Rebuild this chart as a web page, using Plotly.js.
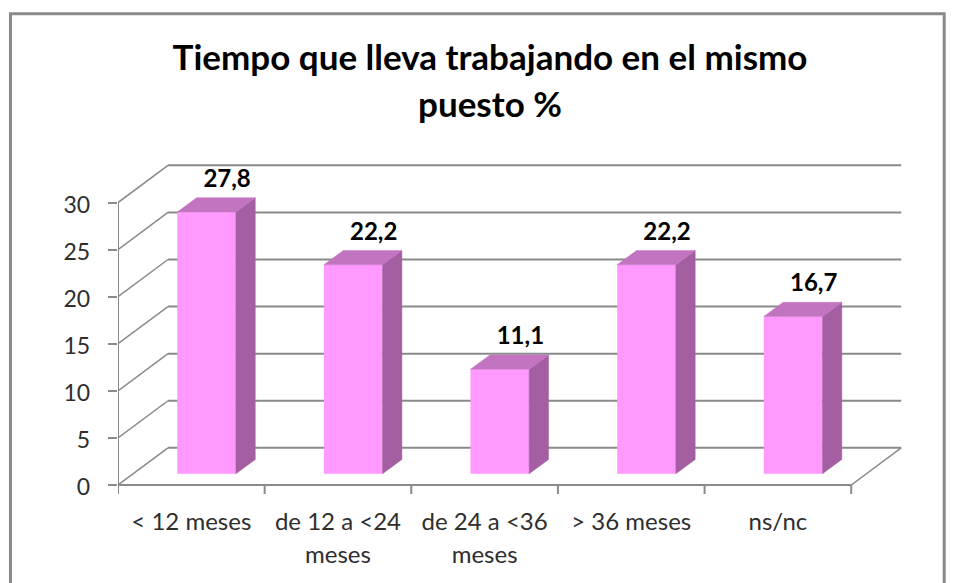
<!DOCTYPE html>
<html><head><meta charset="utf-8">
<script src="https://cdn.plot.ly/plotly-3.0.1.min.js"></script>
<style>html,body{margin:0;padding:0;background:#fff;overflow:hidden}#c{width:957px;height:583px}</style>
</head><body><div id="c"></div>
<script>
const categories = ['&lt; 12 meses','de 12 a &lt;24<br>meses','de 24 a &lt;36<br>meses','&gt; 36 meses','ns/nc'];
const values = [27.8,22.2,11.1,22.2,16.7];
const valueLabels = ['27,8','22,2','11,1','22,2','16,7'];
const yTicks = [0,5,10,15,20,25,30];
const xEdges = [0,1,2,3,4,5];

// oblique projection, in axis units
const wallDx = 0.341, wallDy = 3.95;       // depth of the floor
const barDx0 = 0.104, barDy0 = 1.19;       // bar front face offset from the front edge
const barDx = 0.132, barDy = 1.52;         // bar depth
const barW = 0.40;
const gridColor = '#8a8a8a', textColor = '#2e2e2e', fontName = 'Lato, Carlito, sans-serif';

const cx = categories.map((_, i) => i + 0.5 + barDx0);
const xl = cx.map(c => c - barW/2), xr = cx.map(c => c + barW/2);

const front = {type:'bar', x:cx, y:values, base:values.map(()=>barDy0), width:barW,
  marker:{color:'#FF99FF', line:{width:0}}, hoverinfo:'skip', showlegend:false};

const topX=[], topY=[], sideX=[], sideY=[];
values.forEach((v,i)=>{
  const t = v + barDy0;
  topX.push(xl[i], xr[i], xr[i]+barDx, xl[i]+barDx, xl[i], null);
  topY.push(t, t, t+barDy, t+barDy, t, null);
  sideX.push(xr[i], xr[i]+barDx, xr[i]+barDx, xr[i], xr[i], null);
  sideY.push(barDy0, barDy0+barDy, t+barDy, t, barDy0, null);
});
const poly = (x,y,c)=>({type:'scatter', mode:'lines', x, y, fill:'toself', fillcolor:c,
  line:{width:0.5,color:c}, hoverinfo:'skip', showlegend:false, connectgaps:false});

const labels = {type:'scatter', mode:'text', x:cx.map(c=>c+0.14),
  y:values.map(v=>v+barDy0+barDy+1.8), text:valueLabels, textposition:'middle center',
  textfont:{family:fontName,size:24,color:'#000',weight:700}, hoverinfo:'skip', showlegend:false};

const ln = (xref,yref,x0,y0,x1,y1,w)=>({type:'line',layer:'below',xref,yref,x0,y0,x1,y1,
  line:{color:gridColor,width:w||2}});
const shapes = [];
yTicks.forEach(t=>{
  shapes.push(ln('x','y',wallDx,t+wallDy,5+wallDx,t+wallDy));
  shapes.push(ln('x','y',0,t,wallDx,t+wallDy,1.5));
});
shapes.push(ln('x','y',5,0,5+wallDx,wallDy,1.5));
shapes.push(ln('x','y',0,0,0,30));
shapes.push(ln('x','paper',0,0,5,0));
xEdges.forEach(e=>shapes.push(ln('x','paper',e,0,e,-9/322,2)));
// chart frame, in paper units of the 786x322 plot area
const px=v=>(v-118)/785.8, py=v=>(485.5-v)/322.2;
shapes.push({type:'rect',layer:'below',xref:'paper',yref:'paper',x0:px(10.5),x1:px(944),y0:py(14),y1:py(600),
  line:{color:'#8a8a8a',width:3},fillcolor:'rgba(0,0,0,0)'});

const layout = {
  width:957, height:583, autosize:false, showlegend:false,
  paper_bgcolor:'#fff', plot_bgcolor:'rgba(0,0,0,0)',
  margin:{l:118,r:53.2,t:163.3,b:97.5,pad:0},
  title:{text:'<span style="font-size:35px">Tiempo que lleva trabajando en el mismo<br>puesto %</span>',
    x:490/957, xanchor:'center', y:0.88, yanchor:'top',
    font:{family:fontName,size:36,color:'#000',weight:700}},
  xaxis:{range:[0,5.36], tickmode:'array', tickvals:categories.map((_,i)=>i+0.5),
    ticktext:categories.map(c=>'<span style="font-size:24px">'+c+'</span>'),
    ticks:'', showgrid:false, zeroline:false, showline:false, tickangle:0, automargin:false,
    ticklabelstandoff:19, tickfont:{family:fontName,size:25,color:textColor}},
  yaxis:{range:[0,34.2], tickmode:'array', tickvals:yTicks,
    ticktext:yTicks.map(t=>'<span style="font-size:23px">'+t+'</span>'),
    ticks:'outside', ticklen:9, tickwidth:2, tickcolor:gridColor, showgrid:false, zeroline:false,
    showline:false, automargin:false, ticklabelstandoff:12,
    tickfont:{family:fontName,size:29,color:textColor}},
  shapes
};
Plotly.newPlot('c',[front,poly(sideX,sideY,'#A45FA2'),poly(topX,topY,'#C374C0'),labels],layout,{displayModeBar:false,staticPlot:true});
</script></body></html>
